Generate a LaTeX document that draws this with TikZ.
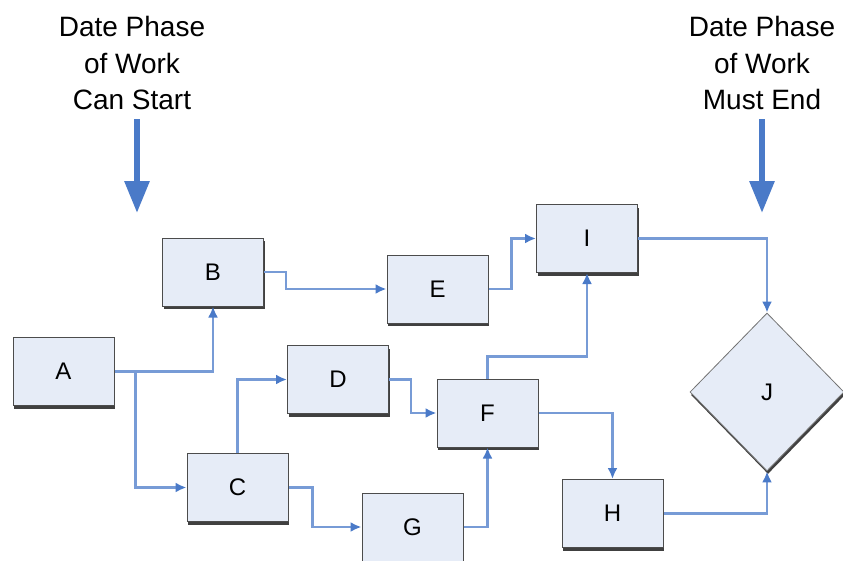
\documentclass[tikz,border=0pt]{standalone}
\usepackage{fontspec}
\setmainfont{Liberation Sans}
\usetikzlibrary{arrows.meta, shapes.geometric, shadows}
\definecolor{boxfill}{RGB}{230,236,247}
\definecolor{linkblue}{RGB}{74,122,200}
\tikzset{box/.style = {draw=black!70, line width=1pt, fill=boxfill, minimum width=101pt, minimum height=68pt, font=\fontsize{24}{28}\selectfont, drop shadow={shadow xshift=1pt, shadow yshift=-3pt, fill=black!75, opacity=1}}}
\tikzset{link/.style = {draw=linkblue!75, line width=2.8pt, -{Latex[length=11pt, width=10pt, color=linkblue]}}}
\tikzset{bigarrow/.style = {draw=linkblue, line width=6pt, -{Triangle[length=32pt, width=24pt]}}}
\tikzset{title/.style = {align=center, font=\fontsize{28}{36.5}\selectfont}}

\begin{document}
\begin{tikzpicture}[x=1pt, y=1pt]
\useasboundingbox (0,0) rectangle (843,-560);
\node[title] (start) at (132,-63) {Date Phase\\of Work\\Can Start};
\node[title] (end) at (762,-63) {Date Phase\\of Work\\Must End};
\coordinate (startmark) at (137,-213);
\coordinate (endmark) at (762,-213);
\draw[bigarrow] ([xshift=5pt, yshift=-6pt]start.south) -- (startmark);
\draw[bigarrow] ([yshift=-6pt]end.south) -- (endmark);
\node[box] (A) at (63.5,-371.5) {A};
\node[box] (B) at (213,-272) {B};
\node[box] (C) at (237.5,-487.5) {C};
\node[box] (D) at (338,-379.5) {D};
\node[box] (E) at (437.5,-289) {E};
\node[box] (F) at (487.5,-413) {F};
\node[box] (G) at (412.5,-527) {G};
\node[box] (H) at (612.5,-513.5) {H};
\node[box] (I) at (587,-238.5) {I};
\node[box, diamond, draw=black!55, line width=0.8pt, minimum width=154pt, minimum height=158pt, drop shadow={opacity=0}] (J) at (767,-392) {J};
\draw[link] (A.east) -| (B.south);
\draw[link] (A.east) -- ++(21,0) |- (C.west);
\draw[link] (B.east) -- ++(22,0) |- (E.west);
\draw[link] (C.north) |- (D.west);
\draw[link] (C.east) -- ++(24,0) |- (G.west);
\draw[link] (D.east) -- ++(22,0) |- (F.west);
\draw[link] (E.east) -- ++(23,0) |- (I.west);
\draw[link] (G.east) -| (F.south);
\draw[link] (F.north) -- ++(0,22) -| (I.south);
\draw[link] (F.east) -| (H.north);
\draw[link] (I.east) -| (J.north);
\draw[link] (H.east) -| (J.south);
\end{tikzpicture}
\end{document}
